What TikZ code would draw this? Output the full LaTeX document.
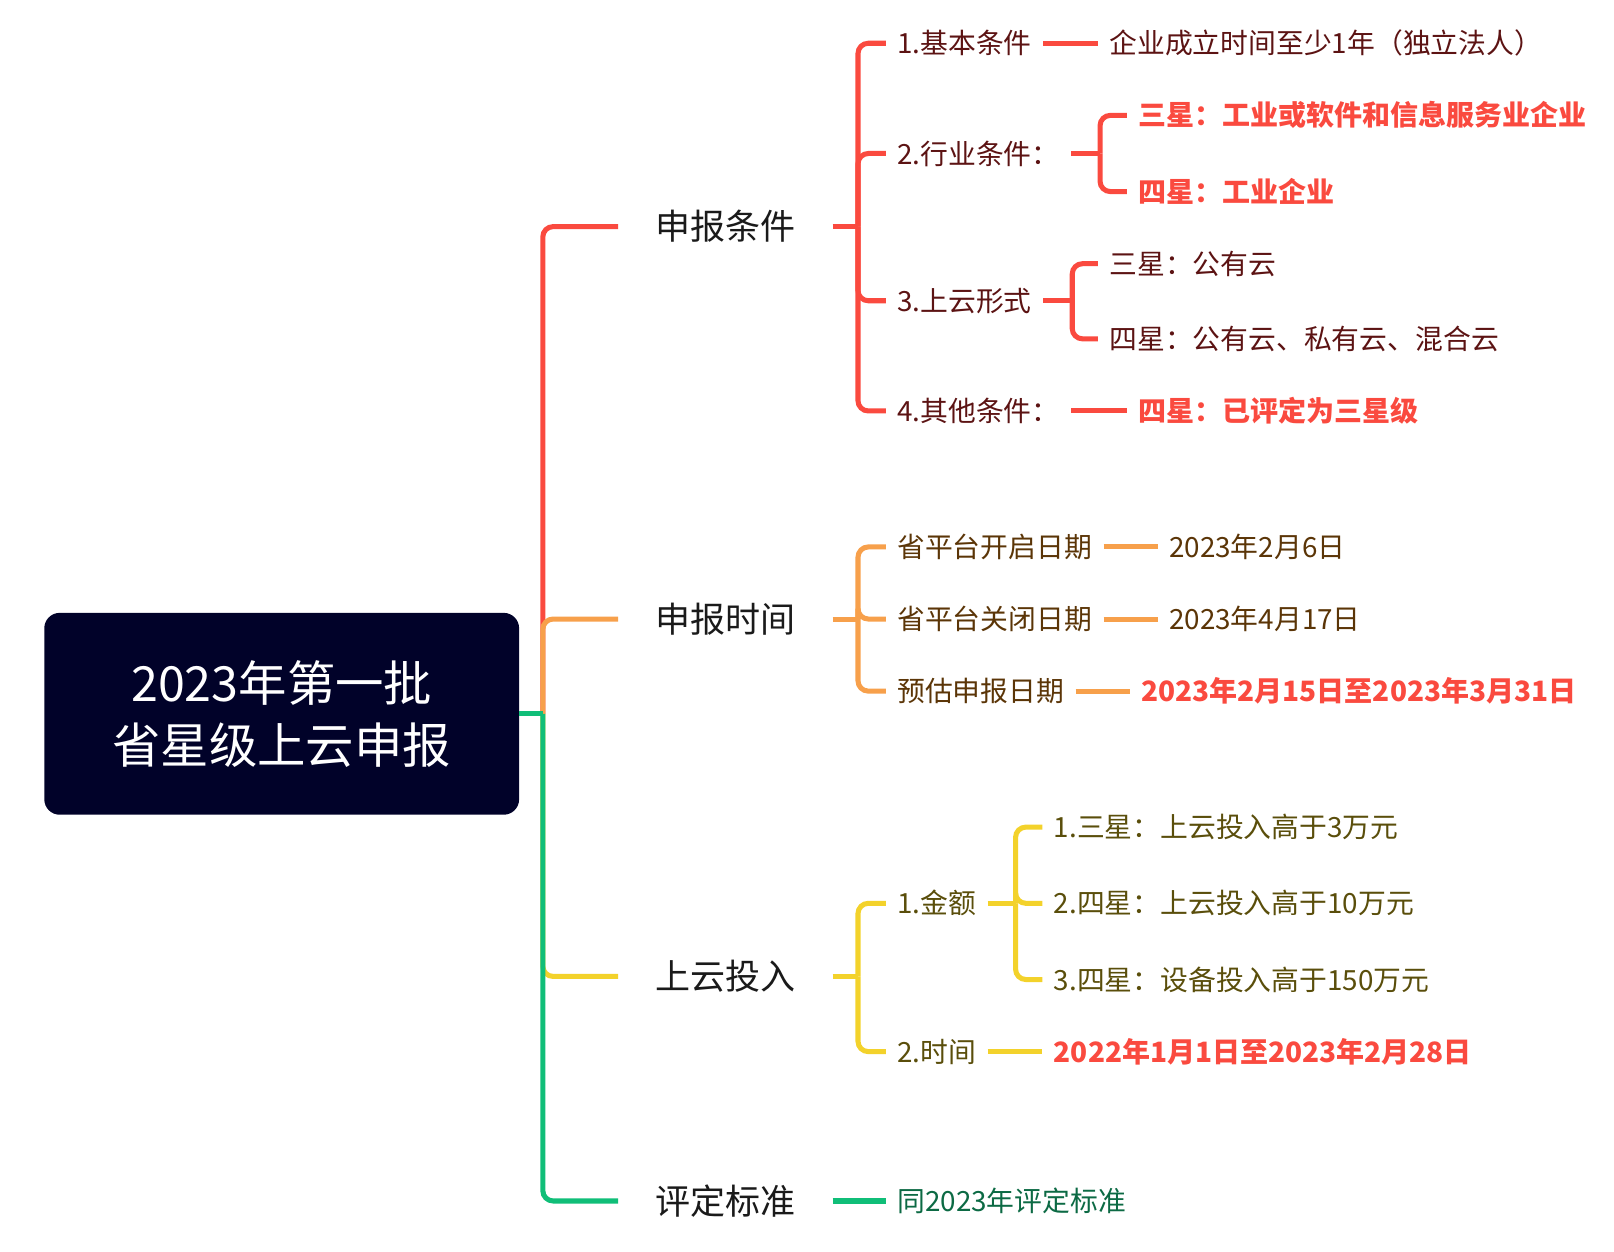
\documentclass[tikz,border=0pt]{standalone}
\usepackage{fontspec}
\setmainfont{Noto Sans CJK SC}
\definecolor{cRed}{HTML}{FA4A3F}
\definecolor{cOrange}{HTML}{F7A04B}
\definecolor{cYellow}{HTML}{F3D22B}
\definecolor{cGreen}{HTML}{10BE78}
\definecolor{tRed}{HTML}{5C1313}
\definecolor{tOrange}{HTML}{5B3507}
\definecolor{tYellow}{HTML}{5A4E0B}
\definecolor{tGreen}{HTML}{0C6A44}
\definecolor{navy}{HTML}{010229}
\definecolor{lvone}{HTML}{1A1A1A}
\tikzset{
  ln/.style={line width=4.9pt},
  br/.style={line width=4.9pt, rounded corners=10pt},
  rootbox/.style={fill=navy, rounded corners=15pt, minimum width=461pt, minimum height=196pt,
    align=center, text=white, font=\fontsize{47}{60}\selectfont, inner sep=0pt},
  one/.style={anchor=west, inner xsep=36pt, inner ysep=0pt, text height=28.2pt, text depth=2.4pt,
    font=\fontsize{34}{40}\selectfont, text=lvone},
  two/.style={anchor=west, inner xsep=11pt, inner ysep=0pt, text height=22.4pt, text depth=1.9pt,
    font=\fontsize{27}{32}\selectfont},
  hot/.style={two, text=cRed, font=\fontsize{27.2}{32}\selectfont\bfseries},
}
\begin{document}
\begin{tikzpicture}[x=1pt,y=-1pt]
\useasboundingbox (0,0) rectangle (1567,1215.5);
% root
\node[rootbox] (root) at (273.5,693) {2023年第一批\\省星级上云申报};
\coordinate (trunk) at (527,693);
% level 1
\node[one] (a) at (600,220) {申报条件};
\node[one] (b) at (600,601) {申报时间};
\node[one] (c) at (600,948) {上云投入};
\node[one] (d) at (600,1166) {评定标准};
% branch a
\coordinate (ba) at (833,220);
\node[two, text=tRed] (a1) at (860,42) {1.基本条件};
\node[two, text=tRed] (a2) at (860,149) {2.行业条件：};
\node[two, text=tRed] (a3) at (860,292) {3.上云形式};
\node[two, text=tRed] (a4) at (860,399) {4.其他条件：};
\node[two, text=tRed] (a11) at (1066,42) {企业成立时间至少1年（独立法人）};
\coordinate (ba2) at (1068,149);
\node[hot] (a21) at (1094,112) {三星：工业或软件和信息服务业企业};
\node[hot] (a22) at (1094,186) {四星：工业企业};
\coordinate (ba3) at (1041,292);
\node[two, text=tRed] (a31) at (1066,256) {三星：公有云};
\node[two, text=tRed] (a32) at (1066,329) {四星：公有云、私有云、混合云};
\node[hot] (a41) at (1094,399) {四星：已评定为三星级};
% branch b
\coordinate (bb) at (833,601);
\node[two, text=tOrange] (b1) at (860,531) {省平台开启日期};
\node[two, text=tOrange] (b2) at (860,601) {省平台关闭日期};
\node[two, text=tOrange] (b3) at (860,671) {预估申报日期};
\node[two, text=tOrange] (b11) at (1124,531) {2023年2月6日};
\node[two, text=tOrange] (b21) at (1124,601) {2023年4月17日};
\node[hot] (b31) at (1097,671) {2023年2月15日至2023年3月31日};
% branch c
\coordinate (bc) at (833,948);
\node[two, text=tYellow] (c1) at (860,877) {1.金额};
\node[two, text=tYellow] (c2) at (860,1021) {2.时间};
\coordinate (bc1) at (986,877);
\node[two, text=tYellow] (c11) at (1012,803) {1.三星：上云投入高于3万元};
\node[two, text=tYellow] (c12) at (1012,877) {2.四星：上云投入高于10万元};
\node[two, text=tYellow] (c13) at (1012,951) {3.四星：设备投入高于150万元};
\node[hot] (c21) at (1012,1021) {2022年1月1日至2023年2月28日};
% branch d
\node[two, text=tGreen] (d1) at (860,1166) {同2023年评定标准};

% trunk connectors
\draw[br, cRed] (trunk) |- (a.west);
\draw[br, cOrange] (trunk) |- (b.west);
\draw[br, cYellow] (trunk) |- (c.west);
\draw[br, cGreen] (trunk) |- (d.west);
\draw[ln, cGreen] (root.east) -- (trunk);

% branch a lines
\draw[ln, cRed] (a.east) -- (ba);
\foreach \n in {a1,a2,a3,a4} \draw[br, cRed] (ba) |- (\n.west);
\draw[ln, cRed] (a1.east) -- (a11.west);
\draw[ln, cRed] (a2.east) -- (ba2);
\draw[br, cRed] (ba2) |- (a21.west);
\draw[br, cRed] (ba2) |- (a22.west);
\draw[ln, cRed] (a3.east) -- (ba3);
\draw[br, cRed] (ba3) |- (a31.west);
\draw[br, cRed] (ba3) |- (a32.west);
\draw[ln, cRed] (a4.east) -- (a41.west);

% branch b lines
\draw[ln, cOrange] (b.east) -- (bb);
\foreach \n in {b1,b2,b3} \draw[br, cOrange] (bb) |- (\n.west);
\draw[ln, cOrange] (b1.east) -- (b11.west);
\draw[ln, cOrange] (b2.east) -- (b21.west);
\draw[ln, cOrange] (b3.east) -- (b31.west);

% branch c lines
\draw[ln, cYellow] (c.east) -- (bc);
\foreach \n in {c1,c2} \draw[br, cYellow] (bc) |- (\n.west);
\draw[ln, cYellow] (c1.east) -- (bc1);
\foreach \n in {c11,c12,c13} \draw[br, cYellow] (bc1) |- (\n.west);
\draw[ln, cYellow] (c2.east) -- (c21.west);

% branch d line
\draw[ln, cGreen] (d.east) -- (d1.west);
\end{tikzpicture}
\end{document}
